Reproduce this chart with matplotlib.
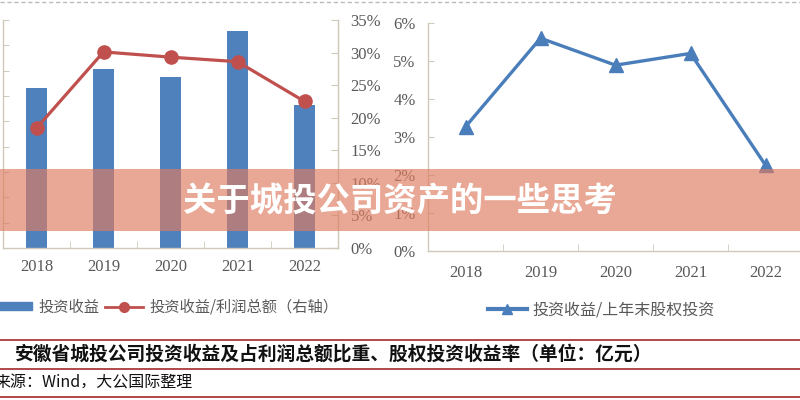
import matplotlib
matplotlib.use('Agg')
import matplotlib.pyplot as plt
from matplotlib.patches import Rectangle, Patch
from matplotlib.lines import Line2D
from matplotlib.ticker import FuncFormatter

plt.rcParams['font.family'] = ['Noto Sans CJK SC', 'DejaVu Sans']

# 数据
years = ['2018', '2019', '2020', '2021', '2022']
invest_income = [63.2, 70.7, 67.5, 85.7, 56.4]       # 投资收益，亿元（左轴刻度在截图外）
income_to_profit = [18.4, 30.1, 29.3, 28.6, 22.5]    # 投资收益/利润总额，%
income_to_equity = [3.27, 5.60, 4.89, 5.20, 2.26]    # 投资收益/上年末股权投资，%

legend_left = ['投资收益', '投资收益/利润总额（右轴）']
legend_right = '投资收益/上年末股权投资'
caption = '安徽省城投公司投资收益及占利润总额比重、股权投资收益率（单位：亿元）'
source = '来源：Wind，大公国际整理'
banner = '关于城投公司资产的一些思考'

W, H = 800, 400
BLUE = '#4f81bd'
RED = '#c0504d'
AXC = '#cfcabb'
TXT = '#595959'
SERIF = 'Liberation Serif'

fig = plt.figure(figsize=(8, 4), dpi=100)


def box(x0, y0, x1, y1):
    # 像素框（左上为原点）转成 figure 坐标
    return [x0 / W, 1 - y1 / H, (x1 - x0) / W, (y1 - y0) / H]


def style_ax(ax):
    for s in ax.spines.values():
        s.set_color(AXC)
        s.set_linewidth(1)
    ax.tick_params(direction='in', length=4, color=AXC, labelcolor=TXT, labelsize=12)
    ax.tick_params(axis='x', which='major', length=0, pad=8)
    ax.set_xticks([i + 0.5 for i in range(len(years) - 1)], minor=True)
    ax.tick_params(axis='x', which='minor', direction='in', length=5, color=AXC)
    for lab in ax.get_xticklabels() + ax.get_yticklabels():
        lab.set_fontfamily(SERIF)


x = list(range(len(years)))

# 1. 左图：投资收益柱 + 占比折线
ax1 = fig.add_axes(box(3, 20, 338, 248))
ax1.bar(x, invest_income, width=0.31, color=BLUE, zorder=2)
ax1.set_xlim(-0.5, 4.5)
ax1.set_ylim(0, 90)
ax1.set_yticks(range(0, 91, 10))
ax1.set_yticklabels([])
ax1.set_xticks(x)
ax1.set_xticklabels(years)
ax1.spines['top'].set_visible(False)
style_ax(ax1)

ax1r = ax1.twinx()
ax1r.plot(x, income_to_profit, color=RED, lw=2.3, marker='o', ms=9.5, zorder=3)
ax1r.set_ylim(0, 35)
ax1r.set_yticks(range(0, 36, 5))
ax1r.yaxis.set_major_formatter(FuncFormatter(lambda v, p: f'{v:.0f}%'))
ax1r.spines['top'].set_visible(False)
ax1r.spines['left'].set_visible(False)
ax1r.spines['bottom'].set_visible(False)
for s in ax1r.spines.values():
    s.set_color(AXC)
ax1r.tick_params(direction='in', length=5, color=AXC, labelcolor=TXT, labelsize=12, pad=9)
for lab in ax1r.get_yticklabels():
    lab.set_fontfamily(SERIF)

# 2. 右图：股权投资收益率
ax2 = fig.add_axes(box(428, 23, 803, 251))
ax2.plot(x, income_to_equity, color='#4a7ebb', lw=2.4, marker='^', ms=10)
ax2.set_xlim(-0.5, 4.5)
ax2.set_ylim(0, 6)
ax2.set_yticks(range(0, 7))
ax2.yaxis.set_major_formatter(FuncFormatter(lambda v, p: f'{v:.0f}%'))
ax2.set_xticks(x)
ax2.set_xticklabels(years)
ax2.spines['top'].set_visible(False)
ax2.spines['right'].set_visible(False)
style_ax(ax2)
ax2.tick_params(axis='y', pad=9)
ax2.tick_params(axis='x', which='major', pad=10)

# 3. 图例
h1 = [Patch(color=BLUE),
      Line2D([], [], color=RED, lw=2, marker='o', ms=7)]
fig.legend(h1, legend_left, loc='center', bbox_to_anchor=(166 / W, 1 - 307 / H),
           ncol=2, frameon=False, fontsize=11, labelcolor=TXT, handlelength=2.5,
           handleheight=0.5, handletextpad=0.4, columnspacing=0.4, borderpad=0)
h2 = [Line2D([], [], color='#4a7ebb', lw=3, marker='^', ms=7)]
fig.legend(h2, [legend_right], loc='center', bbox_to_anchor=(601 / W, 1 - 310 / H),
           frameon=False, fontsize=11.5, labelcolor=TXT, handlelength=2.5,
           handletextpad=0.3, borderpad=0)

# 4. 标题、来源及分隔线
for yy in [340, 369, 397]:
    fig.add_artist(Line2D([0, 1], [1 - yy / H] * 2, color='#a32a2a', lw=1.2))
fig.add_artist(Line2D([0, 1], [1 - 1.5 / H] * 2, color='#bbbbbb', lw=1, ls=(0, (3, 2))))
fig.text(15 / W, 1 - 354 / H, caption, fontsize=13.5, fontweight='bold',
         color='#111111', va='center', ha='left')
fig.text(-6 / W, 1 - 383 / H, source, fontsize=11.5, color='#111111',
         va='center', ha='left')

# 5. 横幅
fig.add_artist(Rectangle((0, 1 - 231 / H), 1, 62 / H, transform=fig.transFigure,
                         facecolor=(223 / 255, 123 / 255, 95 / 255), alpha=0.66,
                         edgecolor='none', zorder=10))
fig.text(0.5, 1 - 202 / H, banner, fontsize=24, fontweight='bold', color='white',
         ha='center', va='center', zorder=11)

fig.savefig('out.png', dpi=100)
